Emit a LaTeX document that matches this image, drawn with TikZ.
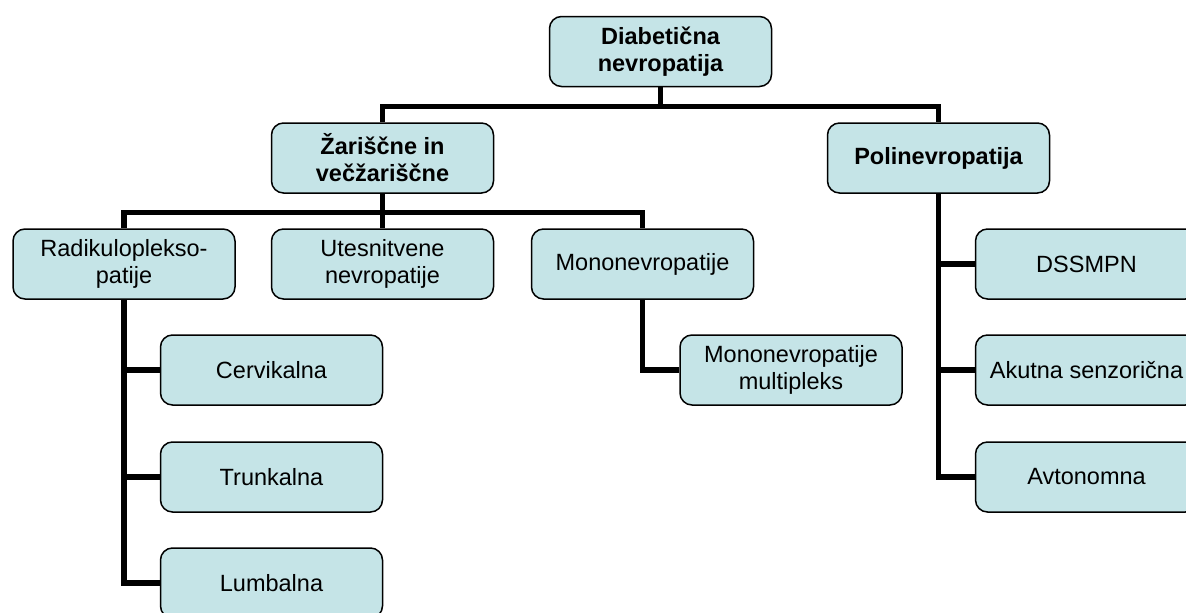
\documentclass[tikz,border=0pt]{standalone}
\usepackage{fontspec}
\setmainfont{Liberation Sans}
\usetikzlibrary{backgrounds}
\definecolor{boxfill}{RGB}{197,228,231}
\begin{document}
\begin{tikzpicture}[x=1pt,y=-1pt,
  box/.style={draw=black,line width=1.5pt,fill=boxfill,rounded corners=12pt,
    minimum width=222pt,minimum height=70pt,inner sep=0pt,align=center,
    font=\fontsize{23.5}{27}\selectfont},
  bbox/.style={box,font=\fontsize{23.5}{27}\selectfont\bfseries},
  conn/.style={line width=5.5pt,line join=miter}]
\useasboundingbox (0,0) rectangle (1186,613);
\clip (0,0) rectangle (1186,613);
% nodes (positions)
\path
  (660.5,51.5) node[bbox] (top) {Diabetična\\nevropatija}
  (382.5,158) node[bbox] (zar) {Žariščne in\\večžariščne}
  (938.5,158) node[bbox] (pol) {Polinevropatija}
  (124,264) node[box] (rad) {Radikuloplekso-\\patije}
  (382.5,264) node[box] (ute) {Utesnitvene\\nevropatije}
  (642.5,264) node[box] (mono) {Mononevropatije}
  (271.5,370) node[box] (cer) {Cervikalna}
  (271.5,477) node[box] (tru) {Trunkalna}
  (271.5,583) node[box] (lum) {Lumbalna}
  (791,370) node[box] (mmp) {Mononevropatije\\multipleks}
  (1086.5,264) node[box] (dss) {DSSMPN}
  (1086.5,370) node[box] (aku) {Akutna senzorična}
  (1086.5,477) node[box] (avt) {Avtonomna};
% connectors
\begin{scope}[on background layer]
  \draw[conn] (top.south) -- ++(0,20);
  \draw[conn] (zar.north) -- ++(0,-16) -| (pol.north);
  \draw[conn] (zar.south) -- (ute.north);
  \draw[conn] (rad.north) -- ++(0,-16) -| (mono.north);
  \draw[conn] (rad.south) |- (lum.west);
  \draw[conn] (rad.south) |- (cer.west);
  \draw[conn] (rad.south) |- (tru.west);
  \draw[conn] (mono.south) |- (mmp.west);
  \draw[conn] (pol.south) |- (avt.west);
  \draw[conn] (pol.south) |- (dss.west);
  \draw[conn] (pol.south) |- (aku.west);
\end{scope}
\end{tikzpicture}
\end{document}
